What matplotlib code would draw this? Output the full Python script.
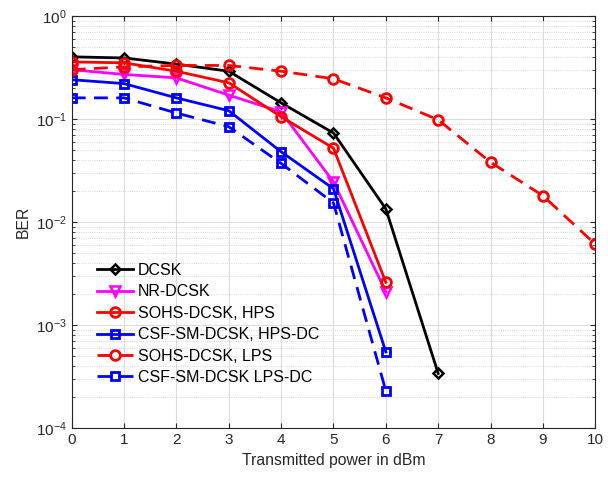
import numpy as np
import matplotlib.pyplot as plt

plt.rcParams['font.family'] = ['Liberation Sans', 'DejaVu Sans']

x_dcsk = [0, 1, 2, 3, 4, 5, 6, 7]
ber_dcsk = [0.40, 0.39, 0.34, 0.29, 0.143, 0.073, 0.0134, 0.00034]

x_nr = [0, 1, 2, 3, 4, 5, 6]
ber_nr = [0.30, 0.27, 0.25, 0.17, 0.117, 0.0245, 0.0021]

x_sohs_hps = [0, 1, 2, 3, 4, 5, 6]
ber_sohs_hps = [0.357, 0.35, 0.29, 0.224, 0.105, 0.052, 0.0026]

x_csf_hps = [0, 1, 2, 3, 4, 5, 6]
ber_csf_hps = [0.24, 0.22, 0.16, 0.12, 0.048, 0.021, 0.00055]

x_sohs_lps = [0, 1, 2, 3, 4, 5, 6, 7, 8, 9, 10]
ber_sohs_lps = [0.30, 0.32, 0.33, 0.33, 0.29, 0.245, 0.16, 0.098, 0.038, 0.018, 0.0061]

x_csf_lps = [0, 1, 2, 3, 4, 5, 6]
ber_csf_lps = [0.16, 0.16, 0.114, 0.084, 0.037, 0.0153, 0.00023]

fig = plt.figure(figsize=(6.08, 4.79), dpi=100)
ax = fig.add_axes([0.118, 0.106, 0.861, 0.861])

lw = 2
dash = (0, (5, 3))
ax.semilogy(x_dcsk, ber_dcsk, 'k-', marker='D', ms=5.5, mfc='none', mew=1.8, lw=lw, label='DCSK')
ax.semilogy(x_nr, ber_nr, '-', color='#ff00ff', marker='v', ms=7, mfc='none', mew=1.8, lw=lw, label='NR-DCSK')
ax.semilogy(x_sohs_hps, ber_sohs_hps, 'r-', marker='o', ms=7, mfc='none', mew=2, lw=lw, label='SOHS-DCSK, HPS')
ax.semilogy(x_csf_hps, ber_csf_hps, 'b-', marker='s', ms=5.5, mfc='none', mew=2, lw=lw, label='CSF-SM-DCSK, HPS-DC')
ax.semilogy(x_sohs_lps, ber_sohs_lps, color='r', ls=dash, marker='o', ms=7, mfc='none', mew=2, lw=lw, label='SOHS-DCSK, LPS')
ax.semilogy(x_csf_lps, ber_csf_lps, color='b', ls=dash, marker='s', ms=5.5, mfc='none', mew=2, lw=lw, label='CSF-SM-DCSK LPS-DC')

ax.set_xlim(0, 10)
ax.set_ylim(1e-4, 1)
ax.set_xticks(range(11))
ax.grid(True, which='major', color='#dcdcdc', lw=0.8, ls='-')
ax.grid(True, which='minor', color='#cccccc', lw=0.6, ls=':')
ax.set_axisbelow(True)
ax.tick_params(which='both', direction='in', top=True, right=True, labelsize=11, colors='#262626')
for s in ax.spines.values():
    s.set_color('#262626')
ax.set_xlabel('Transmitted power in dBm', fontsize=11.3, color='#262626')
ax.set_ylabel('BER', fontsize=11.3, color='#262626')

ax.legend(loc='lower left', bbox_to_anchor=(0.02, 0.07), frameon=False, fontsize=11.5,
          handlelength=2.3, handletextpad=0.3, labelspacing=0.4)

fig.savefig('out.png', dpi=100)
